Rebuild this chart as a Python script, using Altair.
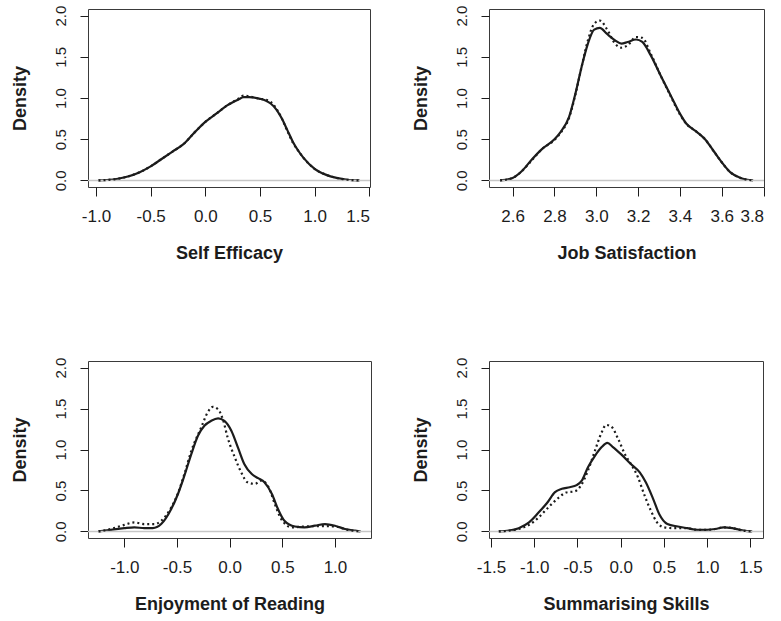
import altair as alt
import pandas as pd

FONT = "Liberation Sans"
INK = "#1c1c1c"

# ---- Self Efficacy ----
se_x = [-0.977, -0.9, -0.8, -0.7, -0.6, -0.5, -0.4, -0.3, -0.2, -0.1, 0.0, 0.1, 0.2, 0.3,
        0.35, 0.4, 0.5, 0.55, 0.6, 0.65, 0.7, 0.75, 0.8, 0.85, 0.9, 1.0, 1.1, 1.2, 1.3, 1.41]
se_solid = [0.0, 0.005, 0.02, 0.05, 0.10, 0.17, 0.26, 0.35, 0.44, 0.58, 0.71, 0.81, 0.91, 0.98,
            1.01, 1.01, 0.99, 0.97, 0.93, 0.86, 0.75, 0.61, 0.47, 0.36, 0.27, 0.14, 0.07, 0.03, 0.008, 0.0]
se_dotted = [0.0, 0.005, 0.02, 0.05, 0.10, 0.17, 0.26, 0.35, 0.44, 0.58, 0.71, 0.81, 0.91, 0.99,
             1.03, 1.02, 0.99, 0.98, 0.95, 0.87, 0.75, 0.60, 0.46, 0.36, 0.27, 0.14, 0.07, 0.03, 0.008, 0.0]

# ---- Job Satisfaction ----
js_x = [2.54, 2.60, 2.647, 2.694, 2.74, 2.80, 2.83, 2.87, 2.90, 2.93, 2.96, 2.99, 3.017, 3.05,
        3.09, 3.12, 3.15, 3.19, 3.22, 3.26, 3.31, 3.36, 3.40, 3.43, 3.48, 3.52, 3.56, 3.60, 3.64, 3.69, 3.75]
js_solid = [0.0, 0.03, 0.12, 0.26, 0.38, 0.50, 0.59, 0.77, 1.05, 1.38, 1.66, 1.83, 1.85, 1.78,
            1.70, 1.66, 1.68, 1.71, 1.68, 1.52, 1.26, 1.01, 0.81, 0.69, 0.59, 0.50, 0.36, 0.22, 0.10, 0.03, 0.0]
js_dotted = [0.0, 0.03, 0.12, 0.25, 0.38, 0.49, 0.58, 0.76, 1.04, 1.38, 1.70, 1.90, 1.94, 1.84,
             1.66, 1.61, 1.64, 1.74, 1.73, 1.54, 1.26, 1.00, 0.80, 0.69, 0.59, 0.50, 0.36, 0.22, 0.10, 0.03, 0.0]

# ---- Enjoyment of Reading ----
er_x = [-1.245, -1.127, -1.0, -0.905, -0.81, -0.73, -0.65, -0.556, -0.49, -0.43, -0.365, -0.30,
        -0.24, -0.175, -0.11, -0.05, 0.016, 0.08, 0.14, 0.21, 0.27, 0.33, 0.40, 0.46, 0.52,
        0.62, 0.71, 0.81, 0.905, 1.0, 1.095, 1.19, 1.243]
er_solid = [0.0, 0.02, 0.04, 0.05, 0.04, 0.04, 0.09, 0.27, 0.46, 0.68, 0.94, 1.17,
            1.29, 1.35, 1.38, 1.35, 1.23, 1.02, 0.82, 0.70, 0.65, 0.60, 0.46, 0.27, 0.13,
            0.06, 0.05, 0.07, 0.09, 0.07, 0.03, 0.01, 0.0]
er_dot_x = [-1.245, -1.127, -1.0, -0.905, -0.81, -0.71, -0.65, -0.556, -0.49, -0.43, -0.365,
            -0.27, -0.21, -0.16, -0.11, -0.06, -0.02, 0.05, 0.11, 0.17, 0.24, 0.30, 0.37, 0.43,
            0.49, 0.59, 0.71, 0.87, 1.0, 1.12, 1.243]
er_dotted = [0.0, 0.03, 0.08, 0.11, 0.09, 0.09, 0.13, 0.29, 0.47, 0.70, 0.98,
             1.27, 1.45, 1.52, 1.49, 1.35, 1.15, 0.90, 0.72, 0.60, 0.58, 0.62, 0.54, 0.33,
             0.15, 0.05, 0.06, 0.065, 0.06, 0.02, 0.0]

# ---- Summarising Skills ----
ss_x = [-1.41, -1.29, -1.18, -1.06, -0.95, -0.85, -0.76, -0.68, -0.59, -0.51, -0.45, -0.38,
        -0.30, -0.22, -0.155, -0.09, 0.006, 0.12, 0.22, 0.29, 0.37, 0.446, 0.54, 0.66, 0.77,
        0.885, 1.0, 1.095, 1.19, 1.29, 1.42, 1.52]
ss_solid = [0.0, 0.01, 0.04, 0.11, 0.23, 0.35, 0.48, 0.52, 0.54, 0.565, 0.62, 0.78,
            0.92, 1.03, 1.08, 1.03, 0.94, 0.82, 0.72, 0.60, 0.41, 0.21, 0.09, 0.06, 0.04,
            0.02, 0.02, 0.03, 0.05, 0.04, 0.01, 0.0]
ss_dot_x = [-1.41, -1.29, -1.18, -1.06, -0.95, -0.84, -0.72, -0.63, -0.53, -0.46, -0.38, -0.30,
            -0.22, -0.17, -0.11, -0.03, 0.05, 0.12, 0.20, 0.27, 0.35, 0.42, 0.50, 0.61, 0.77,
            0.885, 1.0, 1.095, 1.19, 1.29, 1.42, 1.52]
ss_dotted = [0.0, 0.01, 0.03, 0.08, 0.17, 0.29, 0.41, 0.475, 0.49, 0.56, 0.74, 0.98,
             1.21, 1.30, 1.28, 1.13, 0.94, 0.82, 0.66, 0.455, 0.25, 0.11, 0.05, 0.04, 0.04,
             0.02, 0.02, 0.03, 0.05, 0.04, 0.01, 0.0]

density_ticks = [0.0, 0.5, 1.0, 1.5, 2.0]

# one-decimal labels with a plain hyphen as the minus sign
LABEL_EXPR = "replace(format(datum.value, '.1f'), '\u2212', '-')"


def panel(title, xs, ys, xd, yd, domain, ticks, width, height):
    solid_df = pd.DataFrame({"x": xs, "y": ys})
    dotted_df = pd.DataFrame({"x": xd, "y": yd})
    x_enc = alt.X(
        "x:Q",
        scale=alt.Scale(domain=domain, nice=False, zero=False),
        axis=alt.Axis(values=ticks, labelExpr=LABEL_EXPR, title=title),
    )
    y_enc = alt.Y(
        "y:Q",
        scale=alt.Scale(domain=[-0.08, 2.08], nice=False, zero=False),
        axis=alt.Axis(values=density_ticks, format=".1f", title="Density", titleY=height / 2),
    )
    solid = alt.Chart(solid_df).mark_line(
        color=INK, strokeWidth=2.2, clip=True, interpolate="monotone"
    ).encode(x=x_enc, y=y_enc)
    zero = alt.Chart(pd.DataFrame({"y": [0.0]})).mark_rule(color="#c6c6c6", strokeWidth=1.5).encode(y="y:Q")
    dotted = alt.Chart(dotted_df).mark_line(
        color=INK, strokeWidth=2.2, strokeDash=[2, 3], clip=True, interpolate="monotone"
    ).encode(x="x:Q", y="y:Q")
    return alt.layer(solid, zero, dotted).properties(width=width, height=height)


p1 = panel("Self Efficacy", se_x, se_solid, se_x, se_dotted, [-1.073, 1.506],
           [-1.0, -0.5, 0.0, 0.5, 1.0, 1.5], 282, 178)
p2 = panel("Job Satisfaction", js_x, js_solid, js_x, js_dotted, [2.487, 3.802],
           [2.6, 2.8, 3.0, 3.2, 3.4, 3.6, 3.8], 275, 178)
p3 = panel("Enjoyment of Reading", er_x, er_solid, er_dot_x, er_dotted, [-1.345, 1.342],
           [-1.0, -0.5, 0.0, 0.5, 1.0], 283, 177)
p4 = panel("Summarising Skills", ss_x, ss_solid, ss_dot_x, ss_dotted, [-1.523, 1.645],
           [-1.5, -1.0, -0.5, 0.0, 0.5, 1.0, 1.5], 274, 177)

top = alt.hconcat(p1, p2, spacing=119, bounds="flush")
bottom = alt.hconcat(p3, p4, spacing=118, bounds="flush")

# the nested rows count as zero-height in a flush layout, so the row gap
# includes the height of the upper row
chart = (
    alt.vconcat(top, bottom, spacing=352, bounds="flush")
    .properties(background="white", padding={"left": 10, "top": 4, "right": 0, "bottom": 0})
    .configure_view(stroke="#3a3a3a", strokeWidth=1)
    .configure_axis(
        grid=False,
        domain=False,
        tickColor=INK,
        tickWidth=1,
        labelColor=INK,
        titleColor=INK,
        labelFont=FONT,
        titleFont=FONT,
        titleFontWeight="bold",
        titleFontSize=18,
    )
    .configure_axisX(
        tickSize=9,
        labelFontSize=17,
        labelBaseline="alphabetic",
        labelPadding=25,
        titleBaseline="alphabetic",
        titleY=71,
    )
    .configure_axisY(
        tickSize=8,
        labelFontSize=15,
        labelAngle=270,
        labelAlign="center",
        labelBaseline="middle",
        labelPadding=20,
        titleAngle=270,
        titleAlign="center",
        titleBaseline="middle",
        titleX=-68,
    )
)

chart.save("out.html", embed_options={"renderer": "svg", "actions": False})
